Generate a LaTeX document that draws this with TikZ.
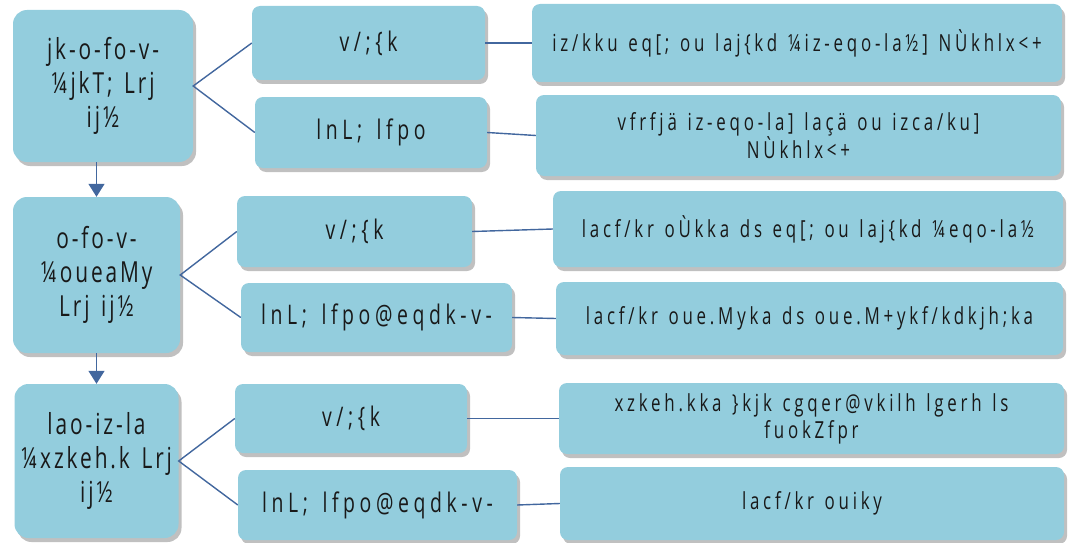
\documentclass[tikz,border=0pt]{standalone}
\usepackage{fontspec}
\setmainfont{Open Sans}[FakeStretch=0.72]
\newfontfamily\lvlfont{Open Sans}[FakeStretch=0.72, LetterSpace=10, WordSpace=1.4]
\newfontfamily\rolefont{Open Sans}[FakeStretch=0.72, LetterSpace=17, WordSpace=1.5]
\newfontfamily\dutyfont{Open Sans}[FakeStretch=0.72, LetterSpace=16, WordSpace=1.3]
\usetikzlibrary{shadows,arrows.meta}
\definecolor{boxblue}{RGB}{147,205,221}
\definecolor{linkblue}{RGB}{66,103,158}
\definecolor{inkgray}{RGB}{25,25,25}
\tikzset{
  bx/.style={fill=boxblue, draw=none, inner sep=0pt, align=center, text=inkgray,
    drop shadow={shadow xshift=3pt, shadow yshift=-4pt, fill=black!45, opacity=.55}},
  lvl/.style={bx, rounded corners=14pt, font=\lvlfont\fontsize{29}{34}\selectfont},
  role/.style={bx, rounded corners=8pt, font=\rolefont\fontsize{27}{30}\selectfont},
  duty/.style={bx, rounded corners=8pt, font=\dutyfont\fontsize{23.5}{27}\selectfont},
  link/.style={draw=linkblue, line width=1.4pt},
  down/.style={link, -{Triangle[width=16pt,length=13pt]}}
}
\begin{document}
\begin{tikzpicture}[x=1pt,y=-1pt]
\useasboundingbox (0,0) rectangle (1082,543);
% level boxes
\node[lvl, minimum width=180, minimum height=152] (L1) at (103,86) {jk-o-fo-v-\\¼jkT; Lrj\\ij½};
\node[lvl, minimum width=167, minimum height=156] (L2) at (96.5,275) {o-fo-v-\\¼oueaMy\\Lrj ij½};
\node[lvl, minimum width=164, minimum height=154] (L3) at (96.5,461) {lao-iz-la\\¼xzkeh.k Lrj\\ij½};
% role boxes
\node[role, minimum width=233, minimum height=74] (M1) at (368.5,43) {v/;\{k};
\node[role, minimum width=232, minimum height=71] (M2) at (371,132.5) {lnL; lfpo};
\node[role, minimum width=235, minimum height=71] (M3) at (354.5,231.5) {v/;\{k};
\node[role, minimum width=271, minimum height=69] (M4) at (376.5,317.5) {lnL; lfpo@eqdk-v-};
\node[role, minimum width=232, minimum height=69] (M5) at (351,418.5) {v/;\{k};
\node[role, minimum width=279, minimum height=70] (M6) at (377.5,505) {lnL; lfpo@eqdk-v-};
% office-holder boxes
\node[duty, minimum width=530, minimum height=78] (R1) at (797,43) {iz/kku eq[; ou laj\{kd ¼iz-eqo-la½] NÙkhlx<+};
\node[duty, minimum width=525, minimum height=81] (R2) at (798.5,135.5) {vfrfjä iz-eqo-la] laçä ou izca/ku]\\NÙkhlx<+};
\node[duty, minimum width=510, minimum height=76] (R3) at (808,229) {lacf/kr oÙkka ds eq[; ou laj\{kd ¼eqo-la½};
\node[duty, minimum width=507, minimum height=73] (R4) at (809.5,318.5) {lacf/kr oue.Myka ds oue.M+ykf/kdkjh;ka};
\node[duty, minimum width=505, minimum height=71] (R5) at (811.5,418.5) {xzkeh.kka \}kjk cgqer@vkilh lgerh ls\\fuokZfpr};
\node[duty, minimum width=504, minimum height=73] (R6) at (812,503.5) {lacf/kr ouiky};
% connectors
\draw[link] (M1.west) -- (L1.east) -- (M2.west);
\draw[link] (M3.west) -- (L2.east) -- (M4.west);
\draw[link] (M5.west) -- (L3.east) -- (M6.west);
\draw[link] (M1.east) -- (R1.west);
\draw[link] (M2.east) -- (R2.west);
\draw[link] (M3.east) -- (R3.west);
\draw[link] (M4.east) -- (R4.west);
\draw[link] (M5.east) -- (R5.west);
\draw[link] (M6.east) -- (R6.west);
\draw[down] (L1.south -| L2.north) -- (L2.north);
\draw[down] (L2.south) -- (L3.north);
\end{tikzpicture}
\end{document}
